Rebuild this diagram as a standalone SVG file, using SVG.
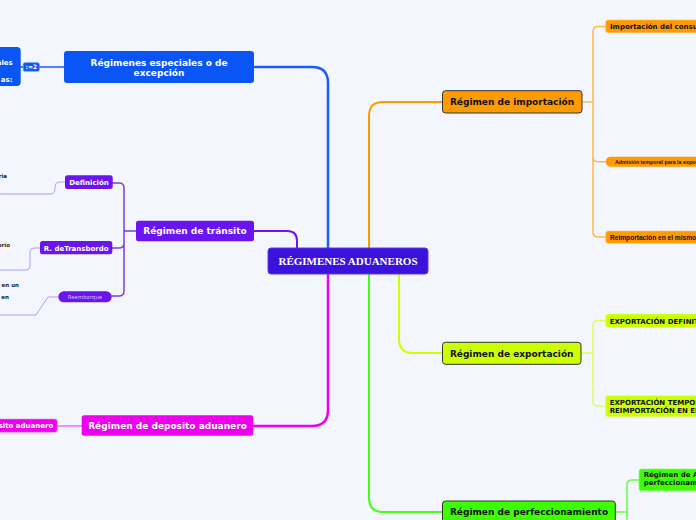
<svg xmlns="http://www.w3.org/2000/svg" width="696" height="520" viewBox="0 0 696 520">
<style>
.t{font-family:"DejaVu Sans","Liberation Sans",sans-serif;font-weight:bold}
.m{font-size:9px;text-anchor:middle}
.s{font-size:7px}
.w{fill:#ffffff}
.k{fill:#111111}
.c{fill:none;stroke-linecap:round;stroke-linejoin:round}
</style>
<rect x="0" y="0" width="696" height="520" fill="#f3f6fd"/>
<g id="connectors">
  <path class="c" d="M255,67 H312 Q328,67 328,83 V248" stroke="#1a5cff" stroke-width="2.5"/>
  <path class="c" d="M254,231 H287 Q297,231 297,241 V248" stroke="#6a14f0" stroke-width="2"/>
  <path class="c" d="M254,426 H312 Q328,426 328,410 V274" stroke="#ee00ee" stroke-width="2.5"/>
  <path class="c" d="M443,102 H383 Q369,102 369,116 V248" stroke="#ff9900" stroke-width="2"/>
  <path class="c" d="M443,353 H413 Q399,353 399,339 V274" stroke="#ccff00" stroke-width="2"/>
  <path class="c" d="M443,512 H383 Q369,512 369,498 V274" stroke="#44ff11" stroke-width="2"/>
  <path class="c" d="M20,67 H64" stroke="#1a5cff" stroke-width="1.5"/>
  <path class="c" d="M136,231 H124 M112,183 H119 Q124,183 124,188 V291 Q124,296 119,296 H112 M112,248 H119 Q124,248 124,243" stroke="#7a3cf2" stroke-width="1.5"/>
  <path class="c" d="M65,182 H60 Q55,182 55,187 V189 Q55,194 50,194 H-2" stroke="#b49cf6" stroke-width="1"/>
  <path class="c" d="M40,248 H34 Q30,248 30,252 V266 Q30,270 26,270 H-2" stroke="#b49cf6" stroke-width="1"/>
  <path class="c" d="M58,297 H48 L36,315 H-2" stroke="#b49cf6" stroke-width="1"/>
  <path class="c" d="M82,426 H57" stroke="#f070f0" stroke-width="1.5"/>
  <path class="c" d="M582,102 H593 M605,26.5 H598 Q593,26.5 593,31.5 V232 Q593,237 598,237 H605 M593,157 Q593,161.7 598,161.7 H605" stroke="#ffb84d" stroke-width="1.5"/>
  <path class="c" d="M581,353 H593 M605,320.5 H598 Q593,320.5 593,325.5 V401 Q593,406 598,406 H605" stroke="#ddff55" stroke-width="1.5"/>
  <path class="c" d="M615,512 H627 M639,480 H632 Q627,480 627,485 V525" stroke="#66ff44" stroke-width="1.5"/>
</g>
<g id="central">
  <rect x="268" y="248" width="160" height="26" rx="3" fill="#3a12dc" stroke="#5a3cf0" stroke-width="1"/>
  <text x="348" y="265" font-family="'Liberation Serif',serif" font-weight="bold" font-size="11" fill="#ffffff" text-anchor="middle">RÉGIMENES ADUANEROS</text>
</g>
<g id="especiales">
  <rect x="64" y="51" width="190" height="32" rx="3" fill="#0a55f5"/>
  <text class="t m w" x="159" y="65.5">Régimenes especiales o de</text>
  <text class="t m w" x="159" y="76">excepción</text>
</g>
<g id="especiales-child">
  <rect x="-10" y="47" width="30.7" height="39" rx="4" fill="#0a55f5"/>
  <text class="t s w" x="12.7" y="64.5" text-anchor="end">ales</text>
  <text class="t s w" x="12.5" y="81.5" text-anchor="end">as:</text>
</g>
<g id="badge">
  <rect x="23.3" y="62.7" width="16" height="8.5" rx="1.5" fill="#0a55f5" stroke="#5a8af7" stroke-width="0.7"/>
  <text class="t w" x="31.3" y="69.3" font-size="6" text-anchor="middle">:=2</text>
</g>
<g id="transito">
  <rect x="136" y="220.7" width="118" height="20.6" rx="2.5" fill="#6a14f0"/>
  <text class="t m w" x="195" y="234.3">Régimen de tránsito</text>
</g>
<g id="definicion">
  <rect x="65" y="175.3" width="47.7" height="13.7" rx="2.5" fill="#6a14f0"/>
  <text class="t s w" x="89" y="185.3" text-anchor="middle">Definición</text>
</g>
<g id="transbordo">
  <rect x="40" y="241" width="72.3" height="13.3" rx="2.5" fill="#6a14f0"/>
  <text class="t s w" x="76.2" y="250.8" text-anchor="middle">R. deTransbordo</text>
</g>
<g id="reembarque">
  <rect x="58.3" y="291.3" width="53.4" height="11" rx="5.5" fill="#6a14f0"/>
  <text x="85" y="298.8" font-family="'DejaVu Sans',sans-serif" font-size="5.4" fill="#d6c8ff" text-anchor="middle">Reembarque</text>
</g>
<g id="left-fragments">
  <text class="t" x="7" y="178" font-size="5.5" fill="#222222" text-anchor="end">ria</text>
  <text class="t" x="10" y="247" font-size="5.5" fill="#222222" text-anchor="end">orio</text>
  <text class="t" x="19" y="286.5" font-size="5.5" fill="#222222" text-anchor="end">en un</text>
  <text class="t" x="9" y="299" font-size="5.5" fill="#222222" text-anchor="end">en</text>
</g>
<g id="deposito">
  <rect x="81.7" y="415.3" width="171.6" height="20.4" rx="2.5" fill="#ee00ee"/>
  <text class="t m w" x="167.5" y="428.8">Régimen de deposito aduanero</text>
</g>
<g id="deposito-child">
  <rect x="-10" y="419" width="67.3" height="13.3" rx="2.5" fill="#ee00ee" stroke="#f58af5" stroke-width="0.6"/>
  <text class="t s w" x="53.3" y="428.2" text-anchor="end">Deposito aduanero</text>
</g>
<g id="importacion">
  <rect x="442.5" y="90.7" width="139.5" height="22.3" rx="3" fill="#ff9a00" stroke="#333333" stroke-width="1"/>
  <text class="t m k" x="512" y="105">Régimen de importación</text>
</g>
<g id="imp-consumo">
  <rect x="605.7" y="20" width="100" height="12.7" rx="2.5" fill="#ff9a00" stroke="#ffc060" stroke-width="0.6"/>
  <text class="t s k" x="610" y="29">Importación del consumo</text>
</g>
<g id="imp-admision">
  <rect x="605.7" y="156.7" width="100" height="10" rx="5" fill="#ff9a00"/>
  <text x="615" y="163.6" font-family="'Liberation Sans',Arial,sans-serif" font-weight="bold" font-size="5.3" fill="#111111">Admisión temporal para la exportación</text>
</g>
<g id="imp-reimportacion">
  <rect x="605.7" y="231" width="100" height="12.3" rx="2.5" fill="#ff9a00" stroke="#ffc060" stroke-width="0.6"/>
  <text x="610" y="239.6" font-family="'Liberation Sans',Arial,sans-serif" font-weight="bold" font-size="6.6" fill="#111111">Reimportación en el mismo estado</text>
</g>
<g id="exportacion">
  <rect x="442.5" y="342.3" width="138.5" height="22" rx="3" fill="#ccff00" stroke="#333333" stroke-width="1"/>
  <text class="t m k" x="511.7" y="356.7">Régimen de exportación</text>
</g>
<g id="exp-definitiva">
  <rect x="605.7" y="314" width="100" height="13.3" rx="2.5" fill="#ccff00" stroke="#e0ff70" stroke-width="0.6"/>
  <text class="t s k" x="609.7" y="323.5">EXPORTACIÓN DEFINITIVA</text>
</g>
<g id="exp-temporal">
  <rect x="605.7" y="395.7" width="100" height="21" rx="2.5" fill="#ccff00" stroke="#e0ff70" stroke-width="0.6"/>
  <text class="t s k" x="609.7" y="404.7">EXPORTACIÓN TEMPORAL PARA</text>
  <text class="t s k" x="609.7" y="412.8">REIMPORTACIÓN EN EL MISMO ESTADO</text>
</g>
<g id="perfeccionamiento">
  <rect x="442.5" y="501" width="172.8" height="30" rx="3" fill="#3cff00" stroke="#333333" stroke-width="1"/>
  <text class="t m k" x="529" y="515">Régimen de perfeccionamiento</text>
</g>
<g id="perf-admision">
  <rect x="639" y="469" width="70" height="21.7" rx="2.5" fill="#3cff00" stroke="#80ff60" stroke-width="0.6"/>
  <text class="t s k" x="643.7" y="477">Régimen de Admisión temporal</text>
  <text class="t s k" x="643.7" y="485.3">perfeccionamiento activo</text>
</g>
</svg>
